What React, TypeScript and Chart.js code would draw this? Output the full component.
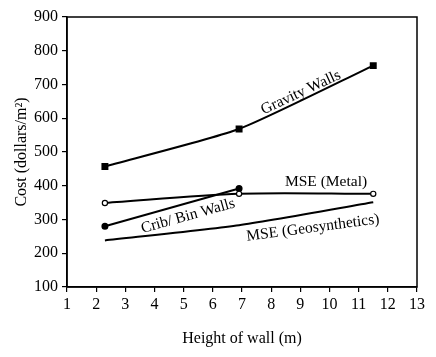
import React, { useEffect, useRef } from "react";
import { Chart, registerables } from "chart.js";

Chart.register(...registerables);

const heights = [2.3, 6.9, 11.5];
const gravityCost = [457, 568, 756];
const mseMetalCost = [349, 376, 376];
const cribHeights = [2.3, 6.9];
const cribCost = [280, 392];
const mseGeoCost = [238, 283, 351];

const xTicks = [1, 2, 3, 4, 5, 6, 7, 8, 9, 10, 11, 12, 13];
const yTicks = [100, 200, 300, 400, 500, 600, 700, 800, 900];

const curveLabels = [
  { text: "Gravity Walls", x: 9.02, y: 676, angle: -25 },
  { text: "MSE (Metal)", x: 9.88, y: 411, angle: 0 },
  { text: "Crib/ Bin Walls", x: 5.15, y: 310, angle: -15.5 },
  { text: "MSE (Geosynthetics)", x: 9.43, y: 275, angle: -7.5 },
];

const FONT = "'Liberation Serif', 'Times New Roman', serif";

const toPts = (xs: number[], ys: number[]) => xs.map((x, i) => ({ x, y: ys[i] }));

const labelPlugin = {
  id: "curveLabels",
  afterDatasetsDraw(chart: any) {
    const { ctx, scales, chartArea } = chart;
    ctx.save();
    ctx.fillStyle = "#000";
    ctx.font = `15.5px ${FONT}`;
    ctx.textAlign = "center";
    ctx.textBaseline = "middle";
    for (const l of curveLabels) {
      const px = scales.x.getPixelForValue(l.x);
      const py = scales.y.getPixelForValue(l.y);
      ctx.save();
      ctx.translate(px, py);
      ctx.rotate((l.angle * Math.PI) / 180);
      ctx.fillText(l.text, 0, 0);
      ctx.restore();
    }
    ctx.strokeStyle = "#000";
    ctx.lineWidth = 1.5;
    ctx.strokeRect(chartArea.left, chartArea.top, chartArea.right - chartArea.left, chartArea.bottom - chartArea.top);
    ctx.restore();
  },
};

export default function App() {
  const ref = useRef<HTMLCanvasElement>(null);
  useEffect(() => {
    if (!ref.current) return;
    const common = { borderColor: "#000", backgroundColor: "#000", borderWidth: 2, showLine: true };
    const chart = new Chart(ref.current, {
      type: "scatter",
      data: {
        datasets: [
          {
            ...common,
            label: "Gravity Walls",
            data: toPts(heights, gravityCost),
            tension: 0.18,
            pointStyle: "rect",
            pointRadius: 3.5,
          },
          {
            ...common,
            label: "MSE (Metal)",
            data: toPts(heights, mseMetalCost),
            tension: 0.3,
            pointStyle: "circle",
            pointRadius: 2.6,
            pointBackgroundColor: "#fff",
            pointBorderColor: "#000",
            pointBorderWidth: 1.2,
          },
          {
            ...common,
            label: "Crib/ Bin Walls",
            data: toPts(cribHeights, cribCost),
            tension: 0,
            pointStyle: "circle",
            pointRadius: 2.5,
          },
          {
            ...common,
            label: "MSE (Geosynthetics)",
            data: toPts(heights, mseGeoCost),
            tension: 0.2,
            pointRadius: 0,
          },
        ],
      },
      options: {
        animation: false,
        responsive: false,
        layout: { padding: { top: 17, right: 19, left: 0, bottom: 0 } },
        plugins: { legend: { display: false }, tooltip: { enabled: false } },
        scales: {
          x: {
            type: "linear",
            min: xTicks[0],
            max: xTicks[xTicks.length - 1],
            afterBuildTicks: (s: any) => {
              s.ticks = xTicks.map((v) => ({ value: v }));
            },
            afterFit: (s: any) => {
              s.height = 70;
            },
            ticks: { color: "#000", font: { family: FONT, size: 16 }, padding: 3, maxRotation: 0 },
            grid: { drawOnChartArea: false, drawTicks: true, tickLength: 5, color: "#000", lineWidth: 1.2 },
            border: { display: true, color: "#000", width: 1.5 },
            title: {
              display: true,
              text: "Height of wall (m)",
              color: "#000",
              font: { family: FONT, size: 16 },
              padding: { top: 0, bottom: 9 },
            },
          },
          y: {
            type: "linear",
            min: yTicks[0],
            max: yTicks[yTicks.length - 1],
            afterBuildTicks: (s: any) => {
              s.ticks = yTicks.map((v) => ({ value: v }));
            },
            afterFit: (s: any) => {
              s.width = 67;
            },
            ticks: { color: "#000", font: { family: FONT, size: 16 }, padding: 4 },
            grid: { drawOnChartArea: false, drawTicks: true, tickLength: 5, color: "#000", lineWidth: 1.2 },
            border: { display: true, color: "#000", width: 1.5 },
            title: {
              display: true,
              text: "Cost (dollars/m²)",
              color: "#000",
              font: { family: FONT, size: 16 },
              padding: { top: 12, bottom: 0 },
            },
          },
        },
      },
      plugins: [labelPlugin],
    });
    return () => chart.destroy();
  }, []);
  return (
    <div style={{ position: "absolute", left: 0, top: 0, width: 436, height: 357, background: "#fff" }}>
      <canvas ref={ref} width={436} height={357} style={{ display: "block" }} />
    </div>
  );
}
